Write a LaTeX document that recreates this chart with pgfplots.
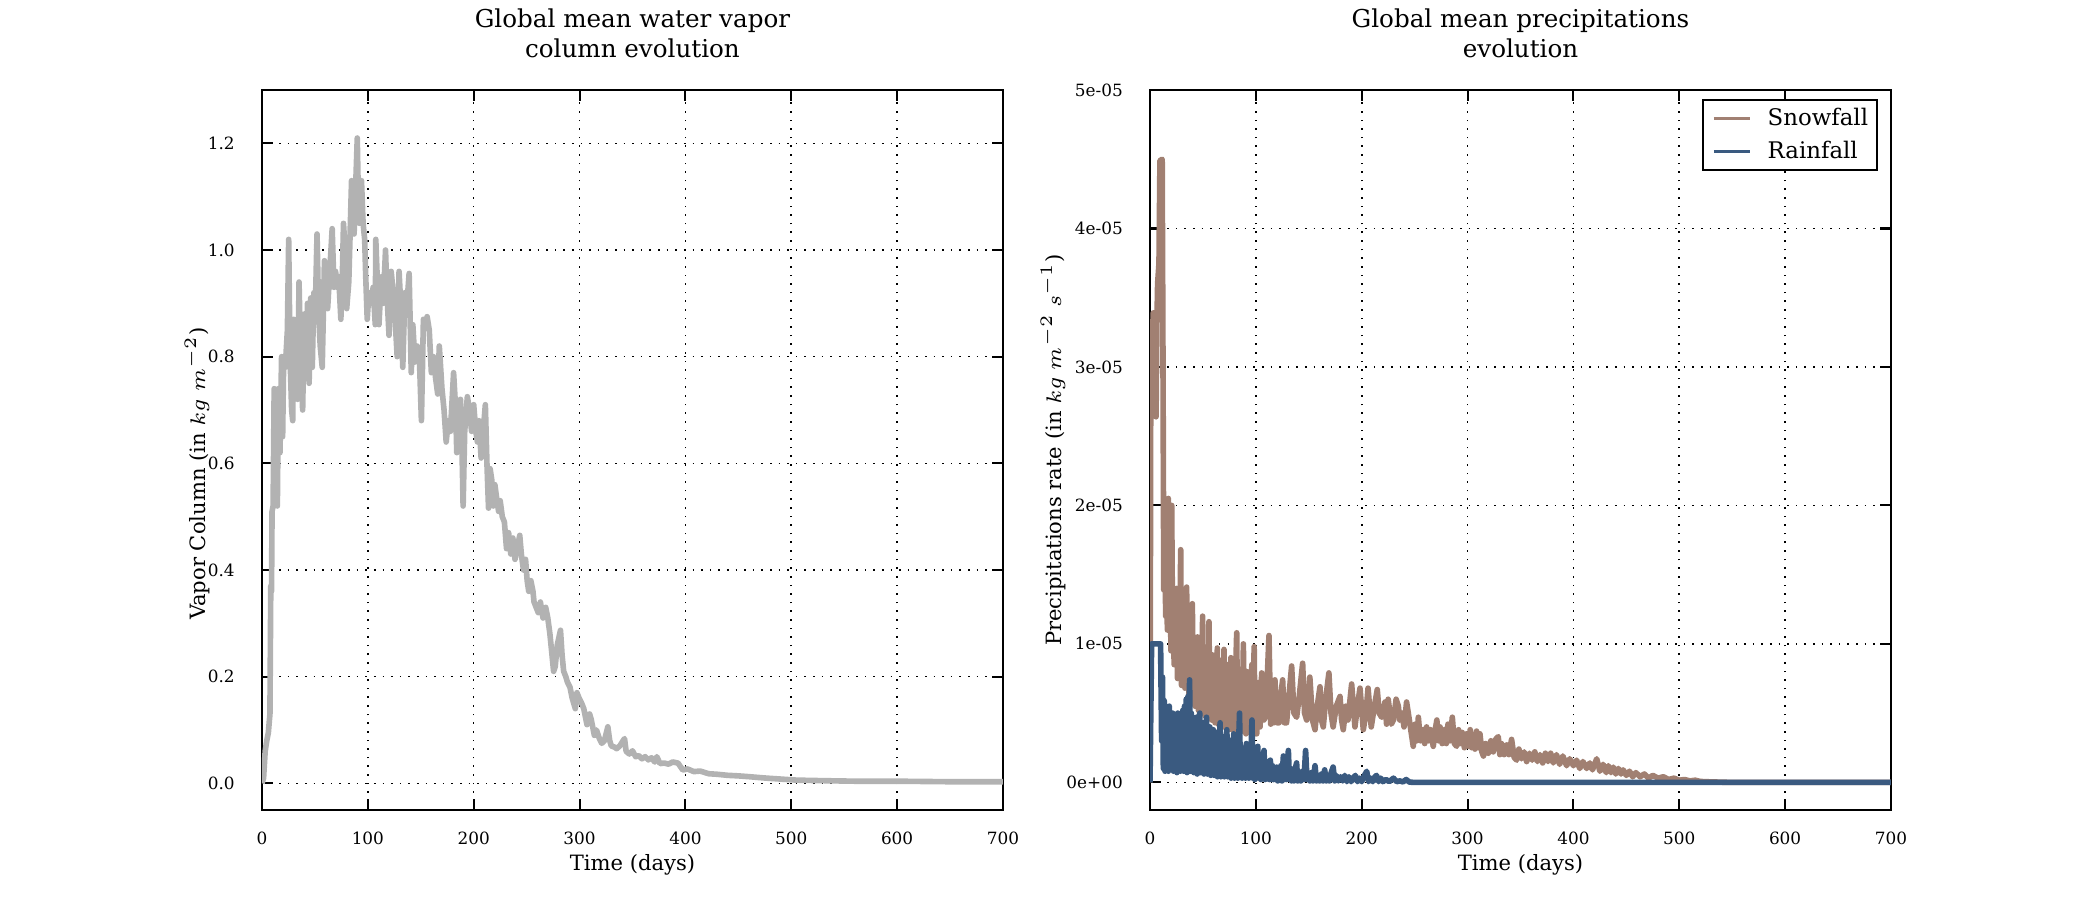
\documentclass[border=0pt]{standalone}
\usepackage{fontspec}
\setmainfont{DejaVu Serif}
\usepackage{pgfplots}
\pgfplotsset{compat=1.18}
\usepackage{pgfplotstable}

\definecolor{vaporgray}{RGB}{178,178,178}
\definecolor{snowbrown}{RGB}{161,128,114}
\definecolor{rainblue}{RGB}{58,90,128}

% Global mean water vapour column (kg m^-2)
\pgfplotstableread{
day v
0 0.0
1.5 0.01
3 0.06
4.5 0.08
6 0.095
7.5 0.13
8.3 0.37
9 0.36
9.5 0.51
10.5 0.52
11.5 0.74
12.5 0.73
13.5 0.53
14.5 0.52
15.5 0.74
17 0.62
18.5 0.80
19.5 0.65
20.5 0.80
22 0.78
24 0.85
25.2 1.02
26.5 0.80
28 0.70
29 0.68
30 0.87
31.5 0.85
33.6 0.72
35 0.94
36.5 0.80
38.4 0.70
40 0.88
41.5 0.76
43 0.90
44.5 0.75
46 0.91
47.5 0.78
49 0.92
50.5 0.90
52 1.03
53.5 0.88
55 0.82
56.9 0.78
59 0.98
60.5 0.95
62 0.89
64 0.96
66.3 1.04
68 0.93
69.5 0.96
71 0.93
72.5 0.95
74.5 0.87
76 0.96
77 1.05
78.5 1.00
80 0.89
82 0.94
84.6 1.13
86 1.10
87 1.03
88.5 1.12
90 1.21
91 1.10
92 1.05
94 1.13
95.5 1.05
97 1.02
98 0.95
99.4 0.87
101 0.92
103 0.90
105 0.93
107 0.86
107.5 1.02
109 0.94
110.5 0.86
112 0.92
113 0.95
114.5 0.90
116.7 1.00
118 0.92
120 0.84
122 0.96
124 0.92
125.5 0.88
127.7 0.80
129.5 0.96
131 0.90
133 0.78
135 0.92
137 0.90
139 0.956
141 0.77
142.5 0.86
144.5 0.79
146.5 0.82
148.5 0.81
150.6 0.68
152.5 0.87
154 0.86
156 0.875
158 0.85
160 0.77
162 0.80
164 0.76
166 0.73
167.5 0.82
170 0.74
172 0.70
174 0.64
176 0.68
178 0.66
181 0.77
183 0.70
184 0.62
186 0.70
187.5 0.72
189 0.62
190 0.52
191.5 0.66
194 0.725
196 0.70
198 0.66
200 0.71
202 0.66
203.5 0.64
205 0.68
207 0.61
209 0.66
211 0.71
212.5 0.60
214 0.516
215.5 0.59
217 0.57
218.5 0.52
220 0.56
222 0.53
223.5 0.51
225 0.53
227 0.50
229 0.49
231 0.44
233 0.47
235 0.43
237 0.46
239 0.42
241 0.44
243.5 0.465
245 0.43
247 0.40
249 0.42
250.5 0.38
252 0.36
254 0.38
256 0.36
257 0.34
259 0.33
261 0.32
263 0.34
265.5 0.31
268 0.33
270 0.31
272 0.28
274 0.24
275.5 0.21
277 0.219
279 0.26
282 0.287
283.5 0.24
285 0.21
287 0.20
288.5 0.19
291 0.18
293 0.16
296 0.14
297.5 0.17
299.5 0.16
302 0.15
304 0.14
307 0.11
309.5 0.13
311 0.12
314 0.09
316 0.10
318.5 0.085
321 0.075
323.5 0.08
326.7 0.106
328.5 0.08
330 0.07
333 0.068
335 0.065
338 0.07
340.5 0.078
342.5 0.084
344 0.06
347 0.055
350 0.061
353 0.05
356 0.052
359 0.046
362 0.05
365 0.044
368 0.048
371 0.04
373 0.05
376 0.037
380 0.038
384 0.036
388 0.04
393 0.038
397.5 0.025
402 0.027
408 0.022
414 0.023
422 0.018
430 0.017
440 0.015
450 0.014
460 0.0125
475 0.01
490 0.008
505 0.006
530 0.005
560 0.004
600 0.004
650 0.003
700 0.003
}\vapor

% Snowfall rate, in units of 1e-5 kg m^-2 s^-1
\pgfplotstableread{
day u
0 0
0.8 3.19
2.5 3.19
3 3.39
5 3.39
5.7 2.64
6.5 3.3
7.2 3.6
8.5 3.75
9.4 4.49
11.5 4.5
12.3 3.0
13 1.39
14 1.9
14.8 1.2
15.6 1.75
16.4 1.1
17.3 2.05
18.2 1.2
19 1.5
19.8 0.95
20.5 2.0
21.3 1.1
22 1.3
22.8 0.85
23.6 1.25
24.4 0.91
25.2 1.4
26 0.75
26.8 1.3
27.6 0.8
28.4 1.2
29 1.68
29.8 0.7
30.6 1.25
31.5 0.81
32.3 1.15
33 0.68
33.8 1.2
34.6 1.41
35.4 0.7
36.2 1.1
36.8 0.62
37.6 1.0
38.4 0.6
39.2 1.1
40 1.29
40.8 0.6
41.6 0.95
42.5 0.55
43.3 1.0
44.1 0.58
44.9 1.05
45.7 0.52
46.5 0.9
47.3 0.55
48.1 1.0
48.9 0.5
49.7 1.2
50.5 0.52
51.3 0.95
52 0.48
52.8 0.9
53.6 0.5
54.4 0.98
55.2 0.47
55.7 1.16
56.5 0.5
57.3 0.85
58.2 0.45
59 0.92
59.8 0.48
60.6 0.85
61.4 0.43
62.2 0.9
63 0.46
63.6 0.97
64.4 0.42
65.2 0.8
66 0.47
66.8 0.88
67.6 0.42
68.4 0.85
69.2 0.4
69.9 0.96
70.7 0.42
71.5 0.78
72.3 0.4
73.1 0.85
73.9 0.38
74.7 0.8
75.6 0.42
76.4 0.9
77.2 0.38
78 0.82
78.7 0.45
79.5 0.78
80.3 0.38
81.1 0.85
81.9 1.08
82.7 0.4
83.5 0.8
84.3 0.36
85.1 0.75
85.9 0.4
86.7 0.82
87.5 0.37
88.2 1.0
89 0.4
89.8 0.7
90.6 0.35
91.4 0.8
92.2 0.38
93 0.72
93.8 0.36
94.6 0.78
95.4 0.4
96.2 0.85
97 0.36
97.8 0.7
98.4 0.98
99.2 0.35
100 0.68
100.8 0.35
102.4 0.72
104 0.4
105.5 0.79
107.5 0.45
109 0.47
110.5 0.7
112.4 1.06
114 0.42
115.5 0.55
117 0.43
118 0.74
120 0.43
122 0.43
123.5 0.62
125.3 0.74
127 0.43
129 0.43
131 0.6
133.8 0.84
136 0.5
138.5 0.47
141 0.62
144.2 0.86
146 0.5
148 0.45
149.5 0.6
151 0.76
153.5 0.45
155.9 0.38
158 0.55
160.6 0.69
162 0.45
163.7 0.40
166 0.6
169 0.79
171 0.5
173 0.40
176 0.55
179.5 0.62
181 0.45
182.6 0.38
185 0.55
187 0.45
190.5 0.71
193.6 0.40
196 0.55
198.4 0.68
201.5 0.38
204 0.5
206 0.68
209 0.40
212 0.55
214.7 0.67
216.5 0.5
218.8 0.47
222 0.58
223.5 0.42
225 0.60
228 0.42
230 0.45
232.5 0.6
234.6 0.55
236 0.45
238 0.5
240 0.4
242.4 0.58
245 0.45
248.7 0.26
250.5 0.42
252 0.3
253.5 0.47
255.5 0.3
258 0.38
259.5 0.28
261.3 0.40
263 0.3
265 0.38
267.6 0.26
269.5 0.38
271 0.45
272.5 0.3
274 0.40
276 0.28
278 0.38
280 0.28
281.5 0.42
283.5 0.3
285.6 0.47
287.5 0.28
289.7 0.26
291.5 0.38
293 0.28
295 0.36
297 0.25
299 0.35
301 0.26
302.5 0.38
304 0.25
305.5 0.33
307 0.24
308.5 0.37
310 0.25
311.7 0.35
313.5 0.22
315 0.19
317 0.28
319.6 0.21
322 0.3
324.3 0.22
326.5 0.31
329 0.33
330.5 0.2
332 0.28
334.5 0.2
337 0.27
339 0.2
341.6 0.31
344 0.18
346.4 0.16
348.5 0.24
351 0.17
353.5 0.22
355.8 0.15
358.5 0.21
361 0.16
363.5 0.22
366 0.15
368.4 0.2
371 0.14
373.5 0.21
376 0.15
378.5 0.21
381 0.14
384 0.2
387 0.13
390 0.19
393.6 0.12
396.5 0.17
400 0.12
403 0.16
406 0.1
409 0.15
412.5 0.1
415.5 0.14
418 0.09
422 0.17
425 0.08
428 0.13
431 0.07
433 0.12
435.5 0.07
437.7 0.11
440 0.06
442.5 0.1
445 0.06
447 0.09
450 0.05
453 0.08
456 0.04
459 0.07
463 0.04
467 0.06
471 0.03
475 0.05
480 0.03
485 0.04
490 0.02
495 0.03
500 0.015
505 0.02
510 0.01
515 0.015
520 0.006
530 0.003
545 0
700 0
}\snow

% Rainfall rate, in units of 1e-5 kg m^-2 s^-1
\pgfplotstableread{
day u
0 0
1.5 1.0
10 1.0
11 0.3
11.8 0.76
12.6 0.1
13.4 0.59
14.2 0.08
15 0.54
15.8 0.1
16.6 0.5
17.4 0.08
18.2 0.55
19 0.1
19.8 0.47
20.6 0.12
21.4 0.5
22.2 0.08
23 0.49
23.8 0.1
24.6 0.45
25.4 0.07
26.2 0.5
27 0.1
27.8 0.45
28.6 0.08
29.4 0.48
30.2 0.1
31 0.52
31.8 0.08
32.6 0.55
33.4 0.1
34.2 0.6
35 0.07
35.8 0.62
36.6 0.1
37.4 0.74
38.2 0.08
39 0.5
39.8 0.1
40.6 0.45
41.4 0.07
42.2 0.4
43 0.1
43.8 0.47
44.6 0.06
45.4 0.42
46.2 0.1
47 0.5
47.8 0.07
48.6 0.38
49.4 0.09
50.2 0.43
51 0.06
51.8 0.4
52.6 0.08
53.4 0.47
54.2 0.06
55 0.36
55.8 0.08
56.6 0.4
57.4 0.05
58.2 0.35
59 0.08
59.8 0.38
60.6 0.05
61.4 0.33
62.2 0.07
63 0.36
63.8 0.04
64.6 0.32
65.4 0.06
66.2 0.43
67 0.04
67.8 0.3
68.6 0.06
69.4 0.33
70.2 0.04
71 0.28
71.8 0.06
72.6 0.38
73.4 0.04
74.2 0.27
75 0.05
75.8 0.3
76.6 0.03
77.4 0.26
78.2 0.05
79 0.35
79.8 0.03
80.6 0.25
81.4 0.05
82.2 0.28
83 0.03
83.8 0.3
84.6 0.5
85.4 0.04
86.2 0.25
87 0.03
87.8 0.22
88.6 0.05
89.4 0.25
90.2 0.03
91 0.28
91.8 0.04
92.6 0.2
93.4 0.03
94.2 0.22
95 0.04
95.8 0.3
96.3 0.45
97.2 0.03
98 0.18
99 0.02
100 0.2
101 0.03
101.8 0.26
102.8 0.03
103.8 0.16
104.8 0.02
105.8 0.18
106.8 0.03
107.7 0.23
108.7 0.02
109.7 0.14
110.7 0.03
111.7 0.15
112.7 0.02
113.7 0.16
114.7 0.02
115.7 0.12
116.7 0.02
117.7 0.1
118.7 0.02
119.6 0.11
120.6 0.01
121.6 0.09
122.6 0.02
123.6 0.12
124.6 0.01
126 0.19
127 0.02
128 0.1
129 0.02
130.7 0.23
131.7 0.02
132.7 0.1
133.8 0.01
135 0.08
136 0.01
137.2 0.1
138.5 0.14
139.5 0.01
141 0.06
142.5 0.01
144 0.08
145.5 0.02
147 0.23
148.3 0.02
149.6 0.06
151 0.01
152.5 0.07
154 0.01
155.9 0.12
157.3 0.01
158.8 0.05
160.3 0.01
162 0.06
163.5 0.01
165 0.09
166.5 0.01
168 0.05
169.5 0.01
171.2 0.07
173 0.11
174.5 0.01
176 0.05
178 0.01
180 0.04
182 0.01
184 0.05
186 0.005
188 0.04
190 0.005
192 0.03
194 0.05
196 0.005
198 0.03
200 0.005
202 0.04
204.7 0.08
206.5 0.005
208.5 0.03
210.5 0.005
212.5 0.04
214 0.05
216 0.005
218 0.03
220 0.005
223 0.02
226 0.005
230 0.03
233 0.005
236 0.01
239 0.003
242 0.02
245 0.002
248 0
700 0
}\rain

\pgfplotsset{
  evol/.style={
    scale only axis, width=74.1mm, height=72mm,
    xmin=0, xmax=700,
    every axis/.append style={line width=0.6pt},
    tick align=inside, major tick length=1.1mm,
    every tick/.style={black, line width=0.6pt},
    grid=major,
    major grid style={black, line width=0.45pt, dash pattern=on 0.45pt off 2pt},
    xtick={0,100,200,300,400,500,600,700},
    xticklabels={0,100,200,300,400,500,600,700},
    /pgf/number format/assume math mode=true,
    tick label style={font=\fontsize{4.8}{5.8}\selectfont},
    xticklabel style={yshift=-0.9mm},
    yticklabel style={xshift=-1.45mm},
    label style={font=\fontsize{6.0}{7.2}\selectfont},
    xlabel={Time (days)},
    xlabel style={at={(axis description cs:0.5,0)}, anchor=base, yshift=-6.0mm},
    title style={align=center, font=\fontsize{7}{8.54}\selectfont,
                 inner sep=0pt, anchor=south, yshift=1mm},
  }
}

\begin{document}
\begin{tikzpicture}
\path[use as bounding box] (0,0) rectangle (210mm,90mm);

\begin{axis}[evol,
  at={(26.2mm,9mm)}, anchor=south west,
  ymin=-0.05, ymax=1.3,
  ytick={0,0.2,0.4,0.6,0.8,1.0,1.2},
  yticklabels={0.0,0.2,0.4,0.6,0.8,1.0,1.2},
  title={Global mean water vapor\\column evolution},
  ylabel={Vapor Column (in $kg\ m^{-2}$)},
  ylabel style={at={([xshift=-6.5mm]axis description cs:0,0.467)}, anchor=center},
]
\addplot[vaporgray, line width=1.6pt, line join=round] table[x=day, y=v] {\vapor};
\end{axis}

\begin{axis}[evol,
  at={(115mm,9mm)}, anchor=south west,
  ymin=-0.2, ymax=5,
  ytick={0,1,2,3,4,5},
  yticklabels={0e+00,1e-05,2e-05,3e-05,4e-05,5e-05},
  title={Global mean precipitations\\evolution},
  ylabel={Precipitations rate (in $kg\ m^{-2}\ s^{-1}$)},
  ylabel style={at={([xshift=-9.7mm]axis description cs:0,0.5)}, anchor=center},
  legend cell align=left,
  legend image code/.code={\draw[#1, line width=1pt] (0mm,0mm) -- (3.6mm,0mm);},
  legend style={at={(1,1)}, anchor=north east, xshift=-1.3mm, yshift=-0.9mm,
    draw=black, line width=0.5pt, inner xsep=0.9mm, inner ysep=0.6mm,
    row sep=0.8mm, column sep=1.6mm,
    font=\fontsize{6.5}{7.8}\selectfont,
    nodes={inner sep=0pt, text height=2mm, text depth=0.5mm}},
]
\addplot[snowbrown, line width=1.6pt, line join=round] table[x=day, y=u] {\snow};
\addlegendentry{Snowfall}
\addplot[rainblue, line width=1.6pt, line join=round] table[x=day, y=u] {\rain};
\addlegendentry{Rainfall}
\end{axis}
\end{tikzpicture}
\end{document}
